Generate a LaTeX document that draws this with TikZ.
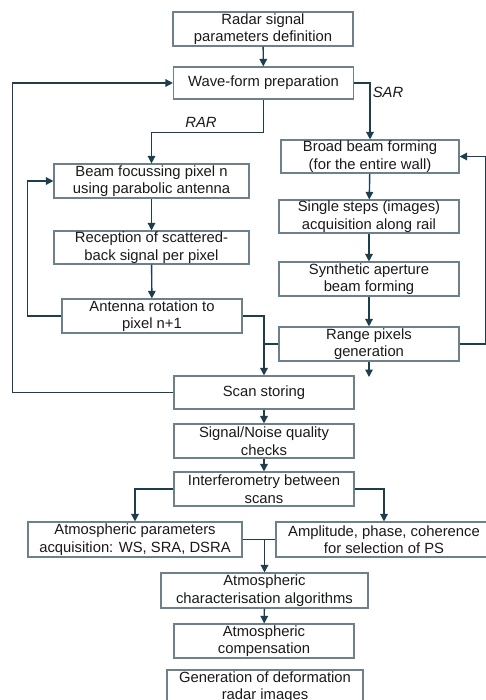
\documentclass[tikz,border=0pt]{standalone}
\usepackage{fontspec}
\setmainfont{Liberation Sans}
\usepackage{xcolor}
\usepackage{tikz}
\usetikzlibrary{arrows}
\usetikzlibrary{arrows.meta}
\definecolor{linecol}{HTML}{1E3D4D}
\definecolor{boxcol}{HTML}{6E8089}
\tikzset{
	main node/.style={rectangle,draw=boxcol,line width=1.1pt,align=center,inner sep=0pt,
		minimum width=180pt,minimum height=34pt,text=black!90,font=\fontsize{14.8}{17.5}\selectfont},
	branch/.style={font=\fontsize{14.8}{17.5}\selectfont\itshape,text=black!90},
	conn/.style={->,draw=linecol,line width=1.4pt},
	plain line/.style={-,draw=linecol,line width=1.4pt}
}

\begin{document}
\begin{tikzpicture}[x=1pt,y=-1pt,>={Triangle[width=7.5pt,length=7.5pt]}]
	\useasboundingbox (0,0) rectangle (486,700);
	% nodes
	\node [main node] (1) at (263,29) {Radar signal\\parameters definition};
	\node [main node,minimum height=32pt] (2) at (263.5,83) {Wave-form preparation};
	\node [main node,minimum width=178pt,minimum height=33pt] (3) at (370,156.5) {Broad beam forming\\(for the entire wall)};
	\node [main node,minimum width=195pt] (4) at (151.5,181) {Beam focussing pixel n\\using parabolic antenna};
	\node [main node,minimum height=33pt] (5) at (369,216.5) {Single steps (images)\\acquisition along rail};
	\node [main node,minimum width=195pt,minimum height=33pt] (6) at (151.5,247.5) {Reception of scattered-\\back signal per pixel};
	\node [main node] (7) at (369,279) {Synthetic aperture\\beam forming};
	\node [main node] (8) at (152,316) {Antenna rotation to\\pixel n+1};
	\node [main node] (9) at (369,344) {Range pixels\\generation};
	\node [main node,minimum height=33pt] (10) at (264,392.5) {Scan storing};
	\node [main node] (11) at (264,441) {Signal/Noise quality\\checks};
	\node [main node] (12) at (264,489) {Interferometry between\\scans};
	\node [main node,minimum width=214pt,minimum height=35pt] (13) at (135,539.5) {Atmospheric parameters\\acquisition: WS, SRA, DSRA};
	\node [main node,minimum width=216pt,minimum height=35pt] (14) at (384,539.5) {Amplitude, phase, coherence\\for selection of PS};
	\node [main node,minimum width=207pt,minimum height=35pt] (15) at (264.5,590.5) {Atmospheric\\characterisation algorithms};
	\node [main node] (16) at (264,641) {Atmospheric\\compensation};
	\node [main node,minimum width=196pt] (17) at (265,687) {Generation of deformation\\radar images};
	\node [branch] (sar) at (388,92) {SAR};
	\node [branch] (rar) at (201,122) {RAR};
	% connectors
	\draw [conn] (1) -- (2);
	\draw [conn] (2.east) -| (3.north);
	\draw [conn] (2.south) -- ++(0,33) -| (4.north);
	\draw [conn] (4) -- (6);
	\draw [conn] (6) -- (8);
	\draw [conn] (8.west) -- ++(-34,0) |- (4.west);
	\draw [conn] (8.east) -| (10.north);
	\draw [plain line] (9.west) -- (9.west -| 10.north);
	\draw [conn] (3) -- (5);
	\draw [conn] (5) -- (7);
	\draw [conn] (7) -- (9);
	\coordinate (end) at (369,377);
	\draw [conn] (9.south) -- (end);
	\draw [conn] (9.east) -- ++(26,0) |- (3.east);
	\draw [conn] (10.west) -- ++(-161,0) |- (2.west);
	\draw [conn] (10) -- (11);
	\draw [conn] (11) -- (12);
	\draw [conn] (12.west) -| (13.north);
	\draw [conn] (12.east) -| (14.north);
	\draw [plain line] (13.east) -- (14.west);
	\draw [conn] (13.east -| 15.north) -- (15.north);
	\draw [conn] (15) -- (16);
\end{tikzpicture}
\end{document}
